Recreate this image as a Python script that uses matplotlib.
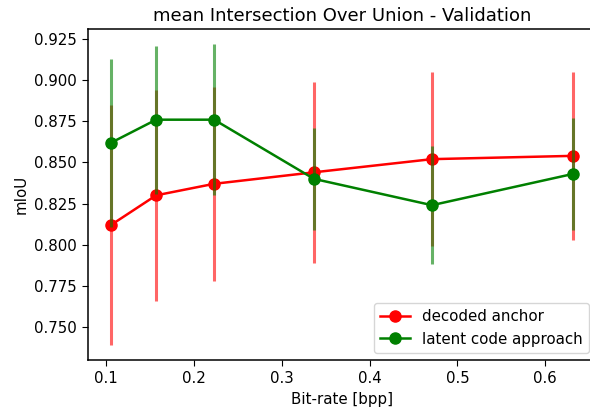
import matplotlib
matplotlib.use('Agg')
import matplotlib.pyplot as plt
import numpy as np

# bit-rates (bpp)
bpp = [0.1057, 0.157, 0.223, 0.3367, 0.471, 0.6315]

# decoded anchor
miou_anchor = [0.812, 0.830, 0.837, 0.844, 0.852, 0.854]
err_anchor = [0.073, 0.064, 0.059, 0.055, 0.053, 0.051]

# latent code approach
miou_latent = [0.862, 0.876, 0.876, 0.840, 0.824, 0.843]
err_latent = [0.051, 0.045, 0.046, 0.031, 0.036, 0.034]

plt.rcParams['font.size'] = 10.8
plt.rcParams['axes.linewidth'] = 1.1
plt.rcParams['xtick.major.size'] = 4.5
plt.rcParams['ytick.major.size'] = 4.5

fig = plt.figure(figsize=(5.9, 4.15), dpi=100)
ax = fig.add_axes([88/590, 1-360/415, 508/590, 331/415])

ax.errorbar(bpp, miou_anchor, yerr=err_anchor, fmt='none', ecolor='r', elinewidth=2.2, alpha=0.6)
ax.plot(bpp, miou_anchor, 'r-o', linewidth=1.8, markersize=8, label='decoded anchor')
ax.errorbar(bpp, miou_latent, yerr=err_latent, fmt='none', ecolor='g', elinewidth=2.2, alpha=0.6)
ax.plot(bpp, miou_latent, 'g-o', linewidth=1.8, markersize=8, label='latent code approach')

ax.set_title('mean Intersection Over Union - Validation', fontsize=13)
ax.set_xlabel('Bit-rate [bpp]')
ax.set_ylabel('mIoU')
ax.set_yticks([0.750, 0.775, 0.800, 0.825, 0.850, 0.875, 0.900, 0.925])
ax.legend(loc='lower right')

fig.savefig('out.png', dpi=100)
